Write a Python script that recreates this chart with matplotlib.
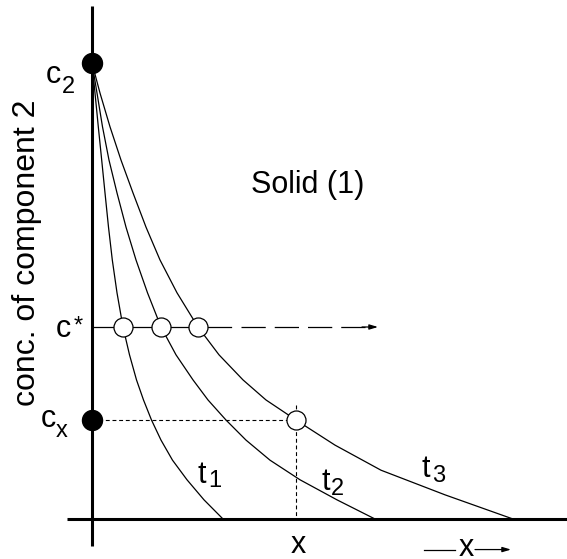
import numpy as np
import matplotlib.pyplot as plt

plt.rcParams['font.family'] = ['Liberation Sans', 'DejaVu Sans']

# concentration profiles: distance x, concentration c (c2 = 1)
t1_x = [0.0, 0.03, 0.063, 0.097, 0.13, 0.165, 0.203, 0.25, 0.31, 0.375, 0.445, 0.515, 0.595,
        0.69, 0.805, 0.95, 1.12, 1.31]
t1_c = [1.0, 0.934, 0.860, 0.787, 0.715, 0.640, 0.568, 0.496, 0.421, 0.360, 0.305, 0.261, 0.217,
        0.173, 0.129, 0.086, 0.042, 0.0]

t2_x = [0.0, 0.05, 0.105, 0.17, 0.25, 0.34, 0.44, 0.555, 0.69, 0.84, 1.01, 1.16, 1.34,
        1.54, 1.78, 2.08, 2.45, 2.83]
t2_c = [1.0, 0.934, 0.860, 0.787, 0.715, 0.640, 0.568, 0.496, 0.421, 0.360, 0.305, 0.261, 0.217,
        0.173, 0.129, 0.086, 0.042, 0.0]

t3_x = [0.0, 0.08, 0.18, 0.29, 0.41, 0.54, 0.68, 0.85, 1.06, 1.27, 1.51, 1.74, 2.04,
        2.43, 2.89, 3.53, 4.21]
t3_c = [1.0, 0.934, 0.860, 0.787, 0.715, 0.640, 0.568, 0.496, 0.421, 0.360, 0.305, 0.261, 0.217,
        0.162, 0.107, 0.053, 0.0]

c2 = 1.0
c_star = 0.421
c_x = 0.217
x_mark = 2.04
# where each profile crosses c*
star_x = [0.31, 0.69, 1.06]

fig = plt.figure(figsize=(5.67, 5.59), dpi=100)
ax = fig.add_axes([0, 0, 1, 1])
ax.set_xlim(-0.92, 4.75)
ax.set_ylim(-0.0877, 1.138)
ax.axis('off')

# axes drawn by hand
ax.plot([0, 0], [-0.059, 1.125], color='k', lw=2.2, solid_capstyle='butt', zorder=3)
ax.plot([-0.25, 4.75], [0, 0], color='k', lw=2.2, solid_capstyle='butt', zorder=3)

# profiles
for xs, cs in [(t1_x, t1_c), (t2_x, t2_c), (t3_x, t3_c)]:
    ax.plot(xs, cs, color='k', lw=0.9, zorder=2, solid_joinstyle='round')

# c* line: solid part, dashed part, arrow
ax.plot([0, 1.39], [c_star, c_star], color='k', lw=0.9, zorder=2)
ax.plot([1.49, 2.78], [c_star, c_star], color='k', lw=0.9, dashes=(19.4, 7.2), zorder=2)
ax.annotate('', xy=(2.86, c_star), xytext=(2.70, c_star),
            arrowprops=dict(arrowstyle='-|>,head_length=0.5,head_width=0.15', color='k', lw=0.9,
                            shrinkA=0, shrinkB=0))

# c_x dotted guides
ax.plot([0, x_mark], [c_x, c_x], color='k', lw=0.8, dashes=(3.5, 2.5), zorder=2)
ax.plot([x_mark, x_mark], [0.25, 0], color='k', lw=0.8, dashes=(3.5, 2.5), zorder=2)

# markers
ax.plot([0, 0], [c2, c_x], 'o', color='k', ms=14.4, zorder=5)
ax.plot(star_x, [c_star] * 3, 'o', mfc='white', mec='k', mew=0.9, ms=13.7, zorder=4)
ax.plot([x_mark], [c_x], 'o', mfc='white', mec='k', mew=0.9, ms=13.7, zorder=4)

# labels
main_fs = 22
sub_fs = 17
ax.text(-0.46, 0.956, 'c', fontsize=main_fs, ha='left', va='baseline')
ax.text(-0.30, 0.934, '2', fontsize=sub_fs, ha='left', va='baseline')
ax.text(-0.36, 0.399, 'c', fontsize=main_fs, ha='left', va='baseline')
ax.text(-0.185, 0.447, '*', fontsize=sub_fs, ha='left', va='top')
ax.text(-0.51, 0.202, 'c', fontsize=main_fs, ha='left', va='baseline')
ax.text(-0.36, 0.180, 'x', fontsize=sub_fs, ha='left', va='baseline')

ax.text(1.05, 0.079, 't', fontsize=main_fs, ha='left', va='baseline')
ax.text(1.16, 0.070, '1', fontsize=sub_fs, ha='left', va='baseline')
ax.text(2.30, 0.064, 't', fontsize=main_fs, ha='left', va='baseline')
ax.text(2.39, 0.053, '2', fontsize=sub_fs, ha='left', va='baseline')
ax.text(3.30, 0.092, 't', fontsize=main_fs, ha='left', va='baseline')
ax.text(3.40, 0.081, '3', fontsize=sub_fs, ha='left', va='baseline')

ax.text(2.155, 0.732, 'Solid (1)', fontsize=22, ha='center', va='center')
ax.text(-0.65, 0.583, 'conc. of component 2', fontsize=23, rotation=90, ha='center', va='center')

ax.text(2.06, -0.074, 'x', fontsize=main_fs, ha='center', va='baseline')
ax.plot([3.32, 3.63], [-0.067, -0.067], color='k', lw=0.9)
ax.text(3.74, -0.081, 'x', fontsize=main_fs, ha='center', va='baseline')
ax.annotate('', xy=(4.19, -0.067), xytext=(3.83, -0.067),
            arrowprops=dict(arrowstyle='-|>,head_length=0.5,head_width=0.15', color='k', lw=0.9,
                            shrinkA=0, shrinkB=0))

fig.savefig('out.png', dpi=100)
